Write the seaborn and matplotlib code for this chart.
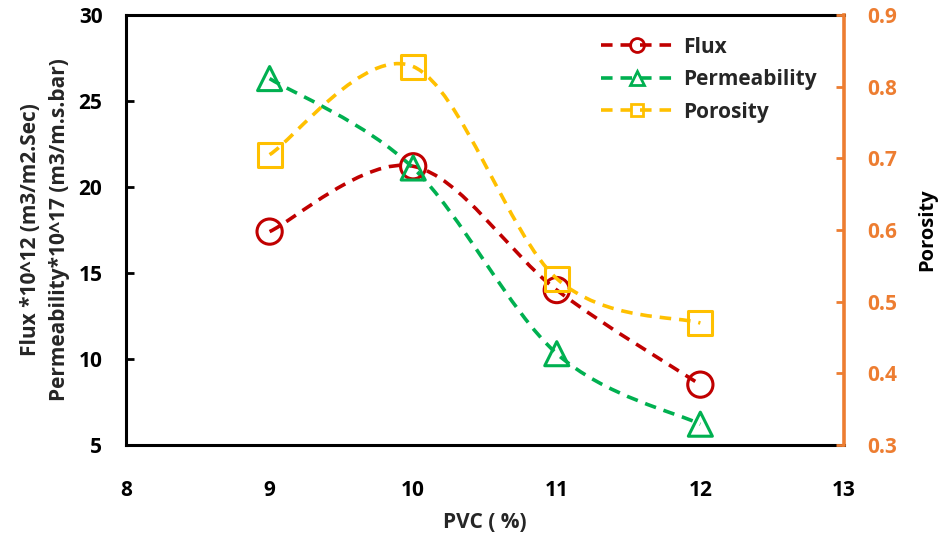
import numpy as np
import pandas as pd
import matplotlib
matplotlib.use("Agg")
import matplotlib.pyplot as plt
import seaborn as sns
from matplotlib.path import Path
from matplotlib.patches import PathPatch
from matplotlib.lines import Line2D

# ---- data ----
pvc = [9, 10, 11, 12]
flux = [17.4, 21.2, 14.0, 8.5]
permeability = [26.3, 21.1, 10.3, 6.2]
porosity = [0.705, 0.828, 0.532, 0.470]

x_ticks = [8, 9, 10, 11, 12, 13]
left_ticks = [5, 10, 15, 20, 25, 30]
right_ticks = [0.3, 0.4, 0.5, 0.6, 0.7, 0.8, 0.9]

RED = "#C00000"
GREEN = "#00B050"
GOLD = "#FFC000"
ORANGE = "#ED7D31"

sns.set_theme(style="white")
plt.rcParams["font.family"] = ["Open Sans", "DejaVu Sans"]
plt.rcParams["font.weight"] = "bold"

fig = plt.figure(figsize=(9.44, 5.34), dpi=100)
ax = fig.add_axes([0.1335, 0.167, 0.894 - 0.1335, 0.972 - 0.167])
ax2 = ax.twinx()


def smooth_path(xs, ys):
    pts = np.column_stack([xs, ys]).astype(float)
    n = len(pts)
    verts = [pts[0]]
    codes = [Path.MOVETO]
    for i in range(n - 1):
        p0 = pts[i - 1] if i > 0 else pts[i]
        p1 = pts[i]
        p2 = pts[i + 1]
        p3 = pts[i + 2] if i + 2 < n else pts[i + 1]
        c1 = p1 + (p2 - p0) / 6.0
        c2 = p2 - (p3 - p1) / 6.0
        verts += [c1, c2, p2]
        codes += [Path.CURVE4] * 3
    return Path(verts, codes)


DASH = (0, (3.2, 2.2))


def draw_series(axis, xs, ys, color, marker, size):
    patch = PathPatch(smooth_path(xs, ys), facecolor="none", edgecolor=color,
                      lw=2.6, linestyle=DASH, zorder=2)
    axis.add_patch(patch)
    df = pd.DataFrame({"x": xs, "y": ys})
    sns.scatterplot(data=df, x="x", y="y", ax=axis, marker=marker, s=size,
                    facecolor="none", edgecolor=color, linewidth=2.2, zorder=3,
                    legend=False)


draw_series(ax, pvc, flux, RED, "o", 330)
draw_series(ax, pvc, permeability, GREEN, "^", 300)
draw_series(ax2, pvc, porosity, GOLD, "s", 300)

ax.set_xlim(8, 13)
ax.set_ylim(5, 30)
ax2.set_ylim(0.3, 0.9)
ax.set_xticks(x_ticks)
ax.set_yticks(left_ticks)
ax2.set_yticks(right_ticks)
ax2.set_yticklabels([f"{v:.1f}" for v in right_ticks])

for a in (ax, ax2):
    a.set_xlabel("")
    a.set_ylabel("")

ax.tick_params(axis="both", direction="in", length=6, width=2, colors="black",
               labelsize=15)
ax.tick_params(axis="y", pad=17)
ax.tick_params(axis="x", pad=25)
ax2.tick_params(axis="y", direction="in", length=6, width=2, colors=ORANGE,
                labelcolor=ORANGE, labelsize=15, pad=17)
for lab in ax.get_xticklabels() + ax.get_yticklabels() + ax2.get_yticklabels():
    lab.set_fontweight("bold")

for s in ["left", "bottom", "top"]:
    ax.spines[s].set_color("black")
    ax.spines[s].set_linewidth(2.2)
ax.spines["right"].set_visible(False)
for s in ["left", "bottom", "top"]:
    ax2.spines[s].set_visible(False)
ax2.spines["right"].set_color(ORANGE)
ax2.spines["right"].set_linewidth(2.6)

ax.set_xlabel("PVC ( %)", fontsize=15, fontweight="bold", labelpad=8)
ax.set_ylabel("Flux *10^12 (m3/m2.Sec)\nPermeability*10^17 (m3/m.s.bar)",
              fontsize=15, fontweight="bold", labelpad=6, linespacing=1.5)
ax2.set_ylabel("Porosity", fontsize=14.5, fontweight="bold", labelpad=14,
               color="black")

handles = [
    Line2D([], [], color=RED, lw=2.6, linestyle=DASH, marker="o",
           markersize=10, markerfacecolor="none", markeredgewidth=2),
    Line2D([], [], color=GREEN, lw=2.6, linestyle=DASH, marker="^",
           markersize=10, markerfacecolor="none", markeredgewidth=2),
    Line2D([], [], color=GOLD, lw=2.6, linestyle=DASH, marker="s",
           markersize=9, markerfacecolor="none", markeredgewidth=2),
]
leg = ax.legend(handles, ["Flux", "Permeability", "Porosity"],
                loc="upper left", bbox_to_anchor=(0.635, 0.993), frameon=False,
                handlelength=3.5, handletextpad=0.45, labelspacing=0.55,
                prop={"size": 15, "weight": "bold"})

fig.savefig("out.png", dpi=100)
